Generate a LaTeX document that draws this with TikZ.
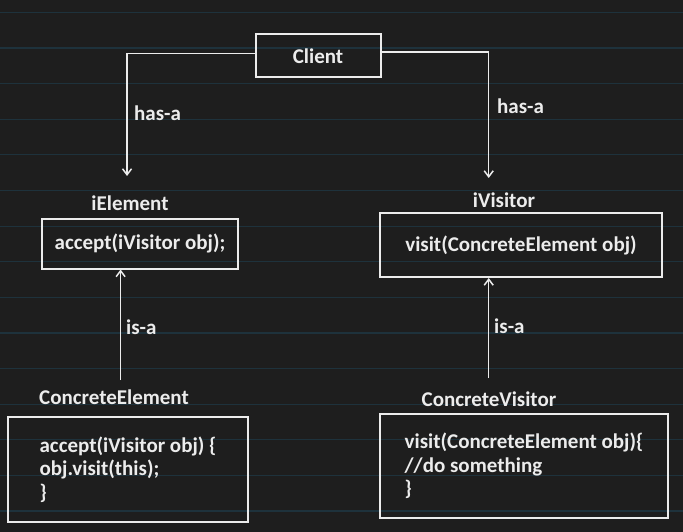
\documentclass[tikz,border=0pt]{standalone}
\usepackage{fontspec}
\setmainfont{Carlito}
\usetikzlibrary{arrows.meta}
\definecolor{board}{RGB}{30,30,30}
\definecolor{ruling}{RGB}{30,50,60}
\definecolor{chalk}{RGB}{236,236,236}

\begin{document}
\begin{tikzpicture}[x=1pt,y=-1pt,>={Straight Barb[length=6pt,width=9pt]},
  every node/.style={text=chalk,inner sep=0pt,font=\fontsize{21}{22}\selectfont\bfseries},
  box/.style={draw=chalk,line width=2pt},
  link/.style={draw=chalk,line width=1.5pt,->}]
\fill[board] (0,0) rectangle (683,532);
\useasboundingbox (0,0) rectangle (683,532);
\foreach \k in {0,...,14}
  \draw[ruling,line width=1.2pt] (0,12.5+35.6*\k) -- (683,12.5+35.6*\k);

\node (client) [box,minimum width=125,minimum height=43] at (318,56) {Client\hspace{16pt}};
\node (ielabel) at (130,203) {iElement};
\node (ie) [box,minimum width=196,minimum height=50] at (140,243.5) {accept(iVisitor obj);};
\node (ivlabel) at (504,200) {iVisitor};
\node (iv) [box,minimum width=282,minimum height=64] at (521,245) {visit(ConcreteElement obj)};
\node (celabel) at (114,397) {ConcreteElement};
\node (ce) [box,minimum width=240,minimum height=105,align=left] at (128,469.5)
  {accept(iVisitor obj) \{\\[1.5pt]obj.visit(this);\\[1.5pt]\}};
\node (cvlabel) at (489,399) {ConcreteVisitor};
\node (cv) [box,minimum width=288,minimum height=104,align=left] at (524,466)
  {visit(ConcreteElement obj)\{\\[1.5pt]//do something\\[1.5pt]\}};

% has-a
\coordinate (hasl) at (127,176);
\coordinate (hasr) at (488.7,178);
\draw[link] ([yshift=2.5pt]client.west) -| (hasl);
\draw[link] ([yshift=4pt]client.east) -| (hasr);
\node (hasa1) [anchor=west] at (134,113) {has-a};
\node (hasa2) [anchor=west] at (497,106) {has-a};

% is-a
\coordinate (isal) at (120.6,380);
\coordinate (isar) at (488.7,378);
\draw[link] (isal) -- (isal |- ie.south);
\draw[link] (isar) -- (isar |- iv.south);
\node (isa1) [anchor=west] at (126,327) {is-a};
\node (isa2) [anchor=west] at (494,326) {is-a};
\end{tikzpicture}
\end{document}
